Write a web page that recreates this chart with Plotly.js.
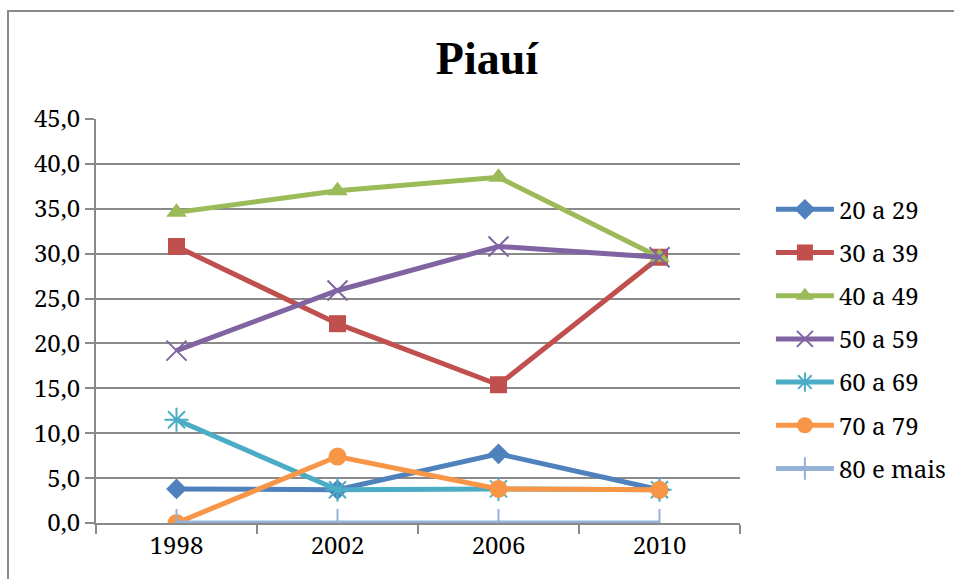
<!DOCTYPE html>
<html>
<head>
<meta charset="utf-8">
<script src="https://cdn.plot.ly/plotly-3.0.1.min.js"></script>
<style>
  html, body { margin: 0; padding: 0; background: #fff; }
  #chart { width: 954px; height: 579px; position: relative; }
  #frame { position: absolute; left: 7px; top: 10px; width: 960px; height: 600px;
           border: 2px solid #8a8a8a; pointer-events: none; box-sizing: border-box; }
</style>
</head>
<body>
<div id="chart"></div>
<div id="frame"></div>
<script>
const years = ['1998', '2002', '2006', '2010'];
const seriesNames = ['20 a 29', '30 a 39', '40 a 49', '50 a 59', '60 a 69', '70 a 79', '80 e mais'];
const s20a29 = [3.8, 3.7, 7.7, 3.7];
const s30a39 = [30.8, 22.2, 15.4, 29.6];
const s40a49 = [34.6, 37.0, 38.5, 29.6];
const s50a59 = [19.2, 25.9, 30.8, 29.6];
const s60a69 = [11.5, 3.7, 3.8, 3.7];
const s70a79 = [0.0, 7.4, 3.8, 3.7];
const s80mais = [0.0, 0.0, 0.0, 0.0];
const yTicks = [0, 5, 10, 15, 20, 25, 30, 35, 40, 45];

const FONT = 'Noto Serif';
const values = [s20a29, s30a39, s40a49, s50a59, s60a69, s70a79, s80mais];
const colors = ['#4F81BD', '#C0504D', '#9BBB59', '#8064A2', '#4BACC6', '#F79646', '#95B3D7'];
const symbols = ['diamond', 'square', 'triangle-up', 'x-thin-open', 'asterisk-open', 'circle', 'line-ns-open'];
const sizes = [16, 17, 18, 20, 20, 18, 20];

const traces = values.map((v, i) => ({
  type: 'scatter',
  mode: 'lines+markers',
  name: seriesNames[i],
  legendgroup: 'g' + i,
  x: years,
  y: v,
  line: { color: colors[i], width: 5 },
  marker: {
    symbol: symbols[i],
    size: sizes[i],
    color: colors[i],
    line: { color: colors[i], width: (symbols[i].endsWith('open') ? 2 : 0) }
  },
  hoverinfo: 'x+y+name'
}));

const layout = {
  width: 954,
  height: 579,
  margin: { l: 96, r: 214, t: 119, b: 56, autoexpand: false },
  paper_bgcolor: '#ffffff',
  plot_bgcolor: '#ffffff',
  separators: ',.',
  font: { family: FONT, size: 24, color: '#000' },
  title: {
    text: '<b>Piauí</b>',
    font: { family: 'Liberation Serif', size: 46, color: '#000' },
    x: 0.607, xanchor: 'center', xref: 'paper',
    y: 0.9, yanchor: 'middle'
  },
  xaxis: {
    type: 'category',
    range: [-0.5, 3.5],
    showgrid: false,
    showline: true, linecolor: '#8a8a8a', linewidth: 2,
    ticks: 'outside', tickson: 'boundaries', ticklen: 9, tickwidth: 2, tickcolor: '#8a8a8a',
    tickfont: { family: FONT, size: 24, color: '#000' },
    zeroline: false,
    automargin: false,
    fixedrange: true
  },
  yaxis: {
    range: [0, 45],
    tickvals: yTicks,
    tickformat: '.1f',
    showgrid: true, gridcolor: '#8a8a8a', gridwidth: 2,
    showline: true, linecolor: '#8a8a8a', linewidth: 2,
    ticks: 'outside', ticklen: 9, tickwidth: 2, tickcolor: '#8a8a8a',
    tickfont: { family: FONT, size: 24, color: '#000' },
    zeroline: false,
    automargin: false,
    fixedrange: true
  },
  showlegend: true,
  legend: {
    x: 1.048, xanchor: 'left',
    y: 0.455, yanchor: 'middle',
    font: { family: FONT, size: 24, color: '#000' },
    tracegroupgap: 9,
    itemwidth: 58,
    bgcolor: 'rgba(0,0,0,0)'
  }
};

Plotly.newPlot('chart', traces, layout, { displayModeBar: false, staticPlot: true });
</script>
</body>
</html>
